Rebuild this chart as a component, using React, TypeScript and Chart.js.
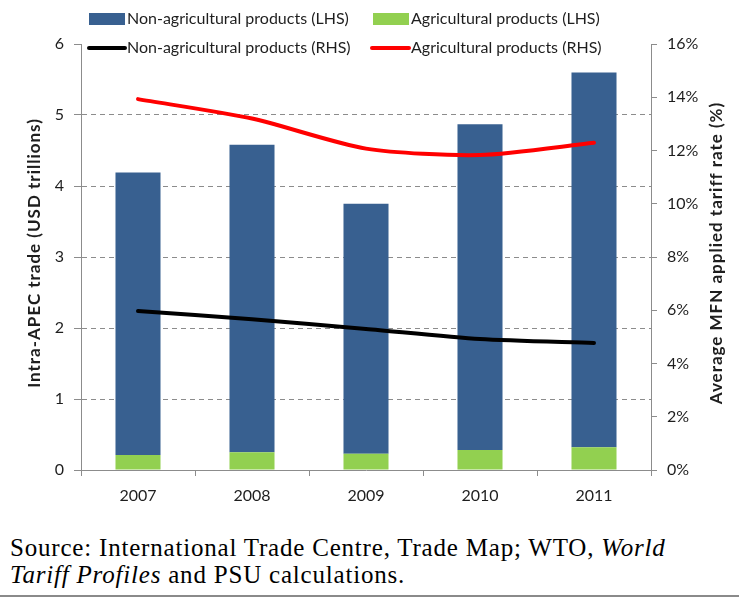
import React, { useEffect, useRef } from "react";
import { Chart, registerables } from "chart.js";

Chart.register(...registerables);

// ---- data ----
const years = ["2007", "2008", "2009", "2010", "2011"];
// USD trillions (stacked: agricultural at bottom, non-agricultural on top)
const agriTrade = [0.21, 0.25, 0.23, 0.28, 0.32];
const nonAgriTrade = [3.98, 4.33, 3.52, 4.59, 5.28];
// Average MFN applied tariff rate (%)
const nonAgriTariff = [5.97, 5.66, 5.3, 4.92, 4.77];
const agriTariff = [13.93, 13.2, 12.07, 11.83, 12.29];

const seriesLabels = [
  "Non-agricultural products (LHS)",
  "Agricultural products (LHS)",
  "Non-agricultural products (RHS)",
  "Agricultural products (RHS)",
];
const leftTitle = "Intra-APEC trade (USD trillions)";
const rightTitle = "Average MFN applied tariff rate (%)";

const BLUE = "#386090";
const GREEN = "#92D050";
const RED = "#FF0000";
const BLACK = "#000000";
const AXIS = "#8c8c8c";
const TXT = "#1e1e1e";
const FONT = "Lato";

const overlayPlugin = {
  id: "overlay",
  afterDraw(chart: any) {
    const ctx = chart.ctx as any;
    const ca = chart.chartArea;
    ctx.save();
    // legend
    ctx.textBaseline = "middle";
    ctx.textAlign = "left";
    ctx.fillStyle = BLUE;
    ctx.fillRect(89, 13, 36, 12);
    ctx.fillStyle = GREEN;
    ctx.fillRect(373, 13, 36, 12);
    ctx.lineWidth = 4;
    ctx.lineCap = "round";
    ctx.strokeStyle = BLACK;
    ctx.beginPath();
    ctx.moveTo(89, 48);
    ctx.lineTo(125, 48);
    ctx.stroke();
    ctx.strokeStyle = RED;
    ctx.beginPath();
    ctx.moveTo(372, 48);
    ctx.lineTo(409, 48);
    ctx.stroke();
    ctx.font = `16px ${FONT}`;
    ctx.fillStyle = TXT;
    ctx.fillText(seriesLabels[0], 127, 19);
    ctx.fillText(seriesLabels[1], 411, 19);
    ctx.fillText(seriesLabels[2], 127, 48);
    ctx.fillText(seriesLabels[3], 411, 48);

    // axis titles
    const cy = (ca.top + ca.bottom) / 2 - 4;
    ctx.font = `bold 17px ${FONT}`;
    try {
      ctx.letterSpacing = "1px";
    } catch (e) {}
    ctx.textAlign = "center";
    ctx.translate(35, cy);
    ctx.rotate(-Math.PI / 2);
    ctx.fillText(leftTitle, 0, 0);
    ctx.setTransform(1, 0, 0, 1, 0, 0);
    ctx.translate(717, cy);
    ctx.rotate(-Math.PI / 2);
    ctx.fillText(rightTitle, 0, 0);
    ctx.restore();
  },
};

export default function App() {
  const ref = useRef<HTMLCanvasElement | null>(null);

  useEffect(() => {
    if (!ref.current) return;
    Chart.defaults.font.family = FONT;
    const chart = new Chart(ref.current, {
      type: "bar",
      data: {
        labels: years,
        datasets: [
          {
            type: "line",
            label: seriesLabels[2],
            data: nonAgriTariff,
            borderColor: BLACK,
            backgroundColor: BLACK,
            borderWidth: 4,
            pointRadius: 0,
            tension: 0.25,
            borderCapStyle: "round",
            yAxisID: "y1",
            order: 0,
          } as any,
          {
            type: "line",
            label: seriesLabels[3],
            data: agriTariff,
            borderColor: RED,
            backgroundColor: RED,
            borderWidth: 4,
            pointRadius: 0,
            tension: 0.25,
            borderCapStyle: "round",
            yAxisID: "y1",
            order: 1,
          } as any,
          {
            type: "bar",
            label: seriesLabels[1],
            data: agriTrade,
            backgroundColor: GREEN,
            yAxisID: "y",
            stack: "trade",
            barPercentage: 0.395,
            categoryPercentage: 1,
            order: 2,
          },
          {
            type: "bar",
            label: seriesLabels[0],
            data: nonAgriTrade,
            backgroundColor: BLUE,
            yAxisID: "y",
            stack: "trade",
            barPercentage: 0.395,
            categoryPercentage: 1,
            order: 3,
          },
        ],
      },
      options: {
        responsive: false,
        animation: false,
        layout: { padding: { top: 44, left: 0, right: 0, bottom: 0 } },
        plugins: { legend: { display: false }, tooltip: { enabled: false }, title: { display: false } },
        scales: {
          x: {
            stacked: true,
            grid: { offset: true, drawOnChartArea: false, tickLength: 6, color: AXIS, tickColor: AXIS },
            border: { color: AXIS, width: 1 },
            ticks: { color: TXT, font: { family: FONT, size: 16 }, padding: 10 },
            afterFit: (s: any) => {
              s.height = 45;
            },
          },
          y: {
            type: "linear",
            position: "left",
            stacked: true,
            min: 0,
            max: 6,
            ticks: { stepSize: 1, color: TXT, font: { family: FONT, size: 16 }, padding: 10 },
            grid: {
              color: (c: any) => (c.tick && (c.tick.value === 0 || c.tick.value === 6) ? "rgba(0,0,0,0)" : AXIS),
              tickColor: AXIS,
              tickLength: 7,
              lineWidth: 1,
            },
            border: { color: AXIS, width: 1, dash: [5, 4] },
            afterFit: (s: any) => {
              s.width = 81;
            },
          },
          y1: {
            type: "linear",
            position: "right",
            min: 0,
            max: 16,
            ticks: {
              stepSize: 2,
              color: TXT,
              font: { family: FONT, size: 16 },
              padding: 10,
              callback: (v: any) => `${v}%`,
            },
            grid: { drawOnChartArea: false, tickColor: AXIS, tickLength: 6, color: AXIS },
            border: { color: AXIS, width: 1 },
            afterFit: (s: any) => {
              s.width = 88;
            },
          },
        },
      },
      plugins: [overlayPlugin],
    });
    return () => chart.destroy();
  }, []);

  return (
    <div style={{ position: "absolute", left: 0, top: 0, width: 739, height: 597, background: "#fff" }}>
      <canvas ref={ref} width={739} height={515} style={{ position: "absolute", left: 0, top: 0 }} />
      <div
        style={{
          position: "absolute",
          left: 10,
          top: 534,
          fontFamily: "'Liberation Serif', 'Times New Roman', serif",
          fontSize: 25,
          letterSpacing: "0.8px",
          lineHeight: "27px",
          color: "#000",
          whiteSpace: "nowrap",
        }}
      >
        Source: International Trade Centre, Trade Map; WTO, <i>World</i>
        <br />
        <i>Tariff Profiles</i> and PSU calculations.
      </div>
      <div style={{ position: "absolute", left: 0, top: 595, width: 739, height: 2, background: "#8a8a8a" }} />
    </div>
  );
}
